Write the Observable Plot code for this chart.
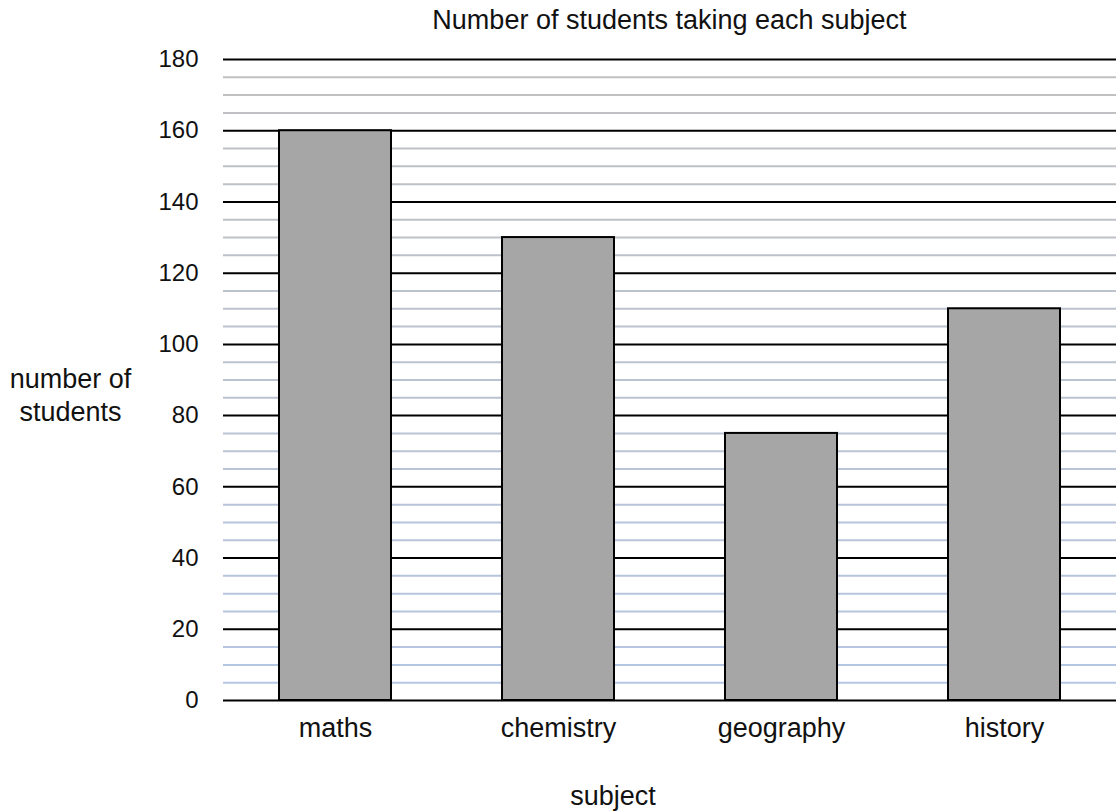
<!DOCTYPE html>
<html>
<head>
<meta charset="utf-8">
<script src="https://cdn.jsdelivr.net/npm/d3@7"></script>
<script src="https://cdn.jsdelivr.net/npm/@observablehq/plot@0.6"></script>
<style>
  html, body { margin: 0; padding: 0; background: #fff; }
  #wrap { position: relative; width: 1116px; height: 812px; overflow: hidden; font-family: "Liberation Sans", Arial, sans-serif; }
  #title { position: absolute; left: 223px; width: 893px; top: 0; height: 40px; line-height: 40px; text-align: center; font-size: 27px; color: #111; }
  #chart { position: absolute; left: 0; top: 40px; }
</style>
</head>
<body>
<div id="wrap">
  <div id="title">Number of students taking each subject</div>
  <div id="chart"></div>
</div>
<script>
const subjects = ["maths", "chemistry", "geography", "history"];
const students = [160, 130, 75, 110];
const yMajorTicks = [0, 20, 40, 60, 80, 100, 120, 140, 160, 180];
const yMinorTicks = [5, 10, 15, 25, 30, 35, 45, 50, 55, 65, 70, 75, 85, 90, 95, 105, 110, 115, 125, 130, 135, 145, 150, 155, 165, 170, 175];

const data = subjects.map((s, i) => ({subject: s, students: students[i]}));
const minorColor = d3.interpolateRgb("#b4c7e7", "#c0c0c0");
const fontFamily = '"Liberation Sans", Arial, sans-serif';

const chart = Plot.plot({
  width: 1116,
  height: 772,
  marginTop: 19,
  marginLeft: 223,
  marginRight: 0,
  marginBottom: 112,
  style: {fontFamily, fontSize: "24px", color: "#111", background: "white"},
  x: {domain: subjects, paddingInner: 0.5, paddingOuter: 0.25, axis: null},
  y: {domain: [0, 180], axis: null},
  color: {type: "identity"},
  marks: [
    Plot.ruleY(yMinorTicks, {stroke: d => minorColor(Math.pow(d / 180, 0.8)), strokeWidth: 2}),
    Plot.ruleY(yMajorTicks, {stroke: "black", strokeWidth: 2}),
    Plot.barY(data, {x: "subject", y: "students", fill: "#a6a6a6", stroke: "black", strokeWidth: 2}),
    Plot.axisY(yMajorTicks, {tickSize: 0, tickPadding: 25, fontSize: 24, label: null, fill: "#111"}),
    Plot.axisX({tickSize: 0, tickPadding: 17, fontSize: 27, label: null, fill: "#111"}),
    Plot.text(["number of\nstudents"], {frameAnchor: "left", textAnchor: "middle", dx: -153, dy: 14, fontSize: 27, lineHeight: 1.2, fill: "#111"}),
    Plot.text(["subject"], {frameAnchor: "bottom", dy: 104, dx: -57, fontSize: 27, fill: "#111"})
  ]
});
document.getElementById("chart").appendChild(chart);
</script>
</body>
</html>
